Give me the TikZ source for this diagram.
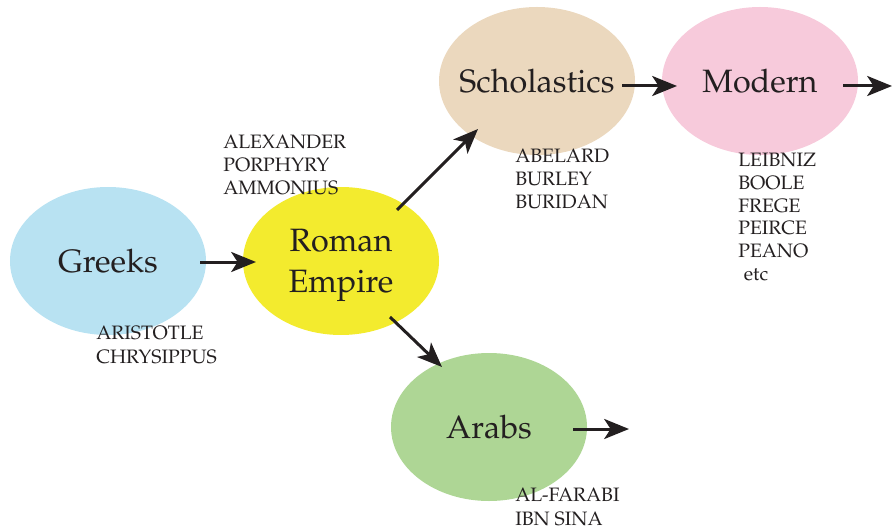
\documentclass[tikz,border=0pt]{standalone}
\usepackage[T1]{fontenc}
\usepackage{mathpazo}
\usetikzlibrary{arrows.meta,calc,shapes.geometric}
\definecolor{sky}{HTML}{B8E2F2}
\definecolor{lemon}{HTML}{F3EB2E}
\definecolor{sand}{HTML}{EBD8BE}
\definecolor{blush}{HTML}{F7CADB}
\definecolor{sage}{HTML}{AED695}
\definecolor{ink}{HTML}{231F20}

\begin{document}
\begin{tikzpicture}[x=.25mm,y=-.25mm,line cap=butt,
    blob/.style={ellipse,draw=none,minimum width=49mm,minimum height=37mm,
      inner xsep=-12pt,inner ysep=0pt,
      text=ink,align=center,font=\fontsize{23}{29}\selectfont},
    names/.style={anchor=base west,align=left,inner sep=0pt,text=ink,
      font=\fontsize{13.8}{16.6}\selectfont},
    flow/.style={-{Stealth[length=6.2mm,width=5mm,inset=1.6mm]},ink,line width=.75mm}]
  \path[use as bounding box] (0,0) rectangle (892,530);

  % The five periods, one ellipse each.
  \node[blob,fill=sky]   (greeks) at (108,261) {Greeks};
  \node[blob,fill=lemon,text depth=0pt] (roman) at (341,261) {Roman\\Empire};
  \node[blob,fill=sand]  (schol)  at (537,81)  {Scholastics};
  \node[blob,fill=blush] (modern) at (760,81)  {Modern};
  \node[blob,fill=sage]  (arabs)  at (489,427) {Arabs};

  % Logicians of each period (placed by the baseline of their last line).
  \node[names] (greeksnames) at (96,363)  {ARISTOTLE\\CHRYSIPPUS};
  \node[names] (romannames)  at (223,195) {ALEXANDER\\PORPHYRY\\AMMONIUS};
  \node[names] (scholnames)  at (515,209) {ABELARD\\BURLEY\\BURIDAN};
  \node[names,font=\fontsize{13.8}{16.1}\selectfont]
    (modernnames) at (738,280) {LEIBNIZ\\BOOLE\\FREGE\\PEIRCE\\PEANO\\\hspace*{4pt}etc};
  \node[names] (arabsnames)  at (515,525) {AL-FARABI\\IBN SINA};

  % Lines of descent; the two open ends run off to the right.
  \coordinate (modernout) at (892,86);
  \coordinate (arabsout) at (629,429);
  \draw[flow] ($(greeks.center)+(92,1)$) -- ($(roman.center)+(-85,1)$);
  \draw[flow] ($(roman.center)+(56,-51)$) -- ($(schol.center)+(-59,48)$);
  \draw[flow] ($(roman.center)+(49,56)$) -- ($(arabs.center)+(-47,-60)$);
  \draw[flow] ($(schol.center)+(85,5)$) -- ($(modern.center)+(-83,5)$);
  \draw[flow] ($(modern.center)+(83,5)$) -- (modernout);
  \draw[flow] ($(arabs.center)+(84,2)$) -- (arabsout);
\end{tikzpicture}
\end{document}
